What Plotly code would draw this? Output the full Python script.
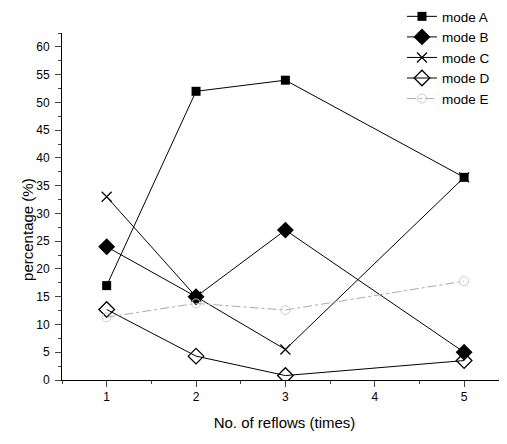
import plotly.graph_objects as go

reflows = [1, 2, 3, 5]
mode_a = [17, 52, 54, 36.5]
mode_b = [24, 15, 27, 5]
mode_c = [33, 15, 5.5, 36.5]
mode_d = [12.7, 4.3, 0.8, 3.5]
mode_e = [11.3, 13.8, 12.6, 17.8]

x_ticks = [1, 2, 3, 4, 5]
y_ticks = list(range(0, 61, 5))

fig = go.Figure()
series = [
    ("mode A", mode_a, dict(symbol="square", size=9, color="black"), dict(color="black", width=1)),
    ("mode B", mode_b, dict(symbol="diamond", size=13, color="black"), dict(color="black", width=1)),
    ("mode C", mode_c, dict(symbol="x-thin", size=10, color="black", line=dict(color="black", width=1.2)), dict(color="black", width=1)),
    ("mode D", mode_d, dict(symbol="diamond-open", size=12, color="black", line=dict(color="black", width=1.3)), dict(color="black", width=1)),
    ("mode E", mode_e, dict(symbol="circle-open", size=9, color="#cccccc", line=dict(color="#cccccc", width=1)), dict(color="#aaaaaa", width=1, dash="dashdot")),
]
for name, vals, mk, ln in series:
    fig.add_trace(go.Scatter(x=reflows, y=vals, name=name, mode="lines+markers",
                             marker=mk, line=ln))

fig.update_layout(
    width=507, height=444,
    margin=dict(l=54, r=8, t=25, b=72, autoexpand=False),
    paper_bgcolor="white", plot_bgcolor="white",
    font=dict(family="Liberation Sans, Arial, sans-serif", color="black", size=12),
    showlegend=True,
    legend=dict(x=0.764, y=1.092, xanchor="left", yanchor="top", itemwidth=30,
                font=dict(size=13.5), bgcolor="rgba(0,0,0,0)", tracegroupgap=0),
    annotations=[dict(text="percentage (%)", xref="paper", yref="paper", x=-0.079, y=0.435,
                      xanchor="center", yanchor="middle", textangle=-90, showarrow=False,
                      font=dict(size=15))],
)
fig.update_xaxes(range=[0.5, 5.48], tickvals=x_ticks, ticks="outside", ticklen=6,
                 showline=True, linecolor="black", linewidth=1, showgrid=False, zeroline=False,
                 minor=dict(ticks="outside", ticklen=3, dtick=0.5, tick0=0.5, showgrid=False),
                 title=dict(text="No. of reflows (times)", font=dict(size=15), standoff=14))
fig.update_yaxes(range=[0, 62.5], tickvals=y_ticks, ticks="outside", ticklen=6, ticklabelstandoff=3,
                 showline=True, linecolor="black", linewidth=1, showgrid=False, zeroline=False,
                 minor=dict(ticks="outside", ticklen=3, dtick=2.5, tick0=0, showgrid=False))

fig.write_html("out.html")
